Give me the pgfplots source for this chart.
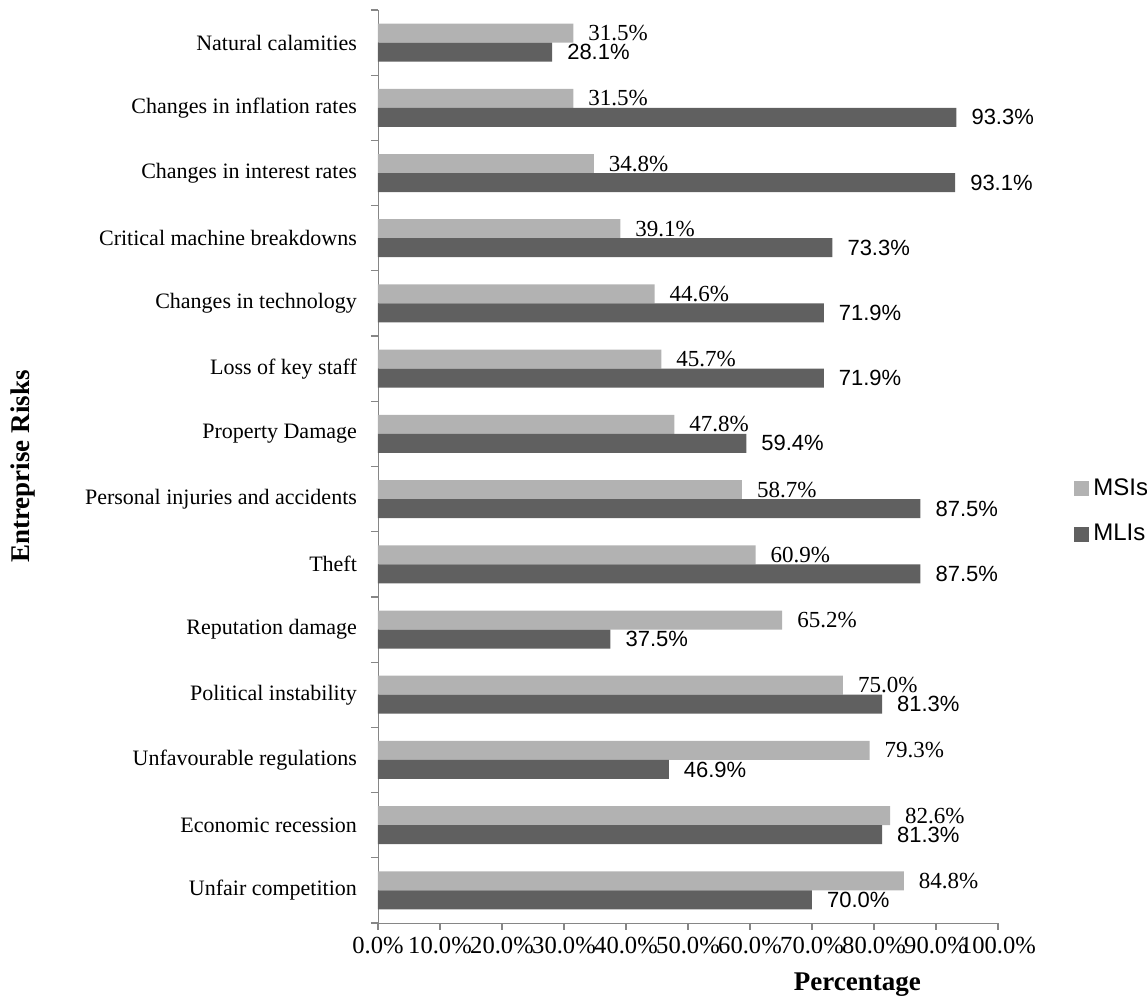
\documentclass[border=0pt]{standalone}
\usepackage{pgfplots}
\pgfplotsset{compat=1.18}
\usepackage{fontspec}
\setmainfont{Liberation Serif}
\newfontfamily\sans{Liberation Sans}
\definecolor{msi}{HTML}{B2B2B2}
\definecolor{mli}{HTML}{606060}
\definecolor{axisgray}{HTML}{868686}
\begin{document}
\begin{tikzpicture}
\path[use as bounding box] (-189pt,-42pt) rectangle (384.5pt,461.5pt);
\begin{axis}[
    at={(0,0)}, anchor=south west,
    scale only axis,
    width=310pt, height=456.5pt,
    xbar, bar width=9.5pt,
    xmin=0, xmax=100,
    ymin=-0.5, ymax=13.5,
    clip=false,
    axis x line*=bottom, axis y line*=left,
    axis line style={axisgray},
    tick style={axisgray, line width=0.6pt},
    tick align=outside,
    major tick length=3.5pt,
    xtick={0,10,...,100},
    xticklabels={0.0\%,10.0\%,20.0\%,30.0\%,40.0\%,50.0\%,60.0\%,70.0\%,80.0\%,90.0\%,100.0\%},
    ytick={-0.5,0.5,...,13.5},
    yticklabel={\relax},
    extra y ticks={0,...,13},
    extra y tick labels={Unfair competition,Economic recession,Unfavourable regulations,Political instability,Reputation damage,Theft,Personal injuries and accidents,Property Damage,Loss of key staff,Changes in technology,Critical machine breakdowns,Changes in interest rates,Changes in inflation rates,Natural calamities},
    extra y tick style={major tick length=0pt,
        yticklabel style={font=\fontsize{11}{13}\selectfont, xshift=-7pt}},
    xticklabel style={font=\fontsize{12.3}{14}\selectfont},
    xlabel={Percentage},
    ylabel={Entreprise Risks},
    xlabel style={font=\bfseries\fontsize{13.5}{16}\selectfont, at={(axis description cs:0.773,0)}, anchor=center, yshift=-31pt},
    ylabel style={font=\bfseries\fontsize{13.5}{16}\selectfont, at={(axis description cs:-0.5726,0.5)}, anchor=center},
    /pgf/number format/assume math mode=true,
    point meta=x,
    nodes near coords={\pgfmathprintnumber[fixed,fixed zerofill,precision=1]{\pgfplotspointmeta}\%},
    legend style={at={(axis description cs:1,0.451)}, anchor=west, xshift=38pt, draw=none, fill=none,
        font=\sans\fontsize{12}{14}\selectfont, row sep=9pt, inner sep=0pt},
    legend cell align=left,
    legend image code/.code={\fill[#1] (0pt,-3.75pt) rectangle (7.5pt,3.75pt);},
]
\addplot[draw=none, fill=msi, bar shift=4.75pt,
    every node near coord/.append style={font=\fontsize{11.5}{13}\selectfont, anchor=west, xshift=4pt, text=black}]
coordinates {
(84.8,0) (82.6,1) (79.3,2) (75.0,3) (65.2,4) (60.9,5) (58.7,6)
(47.8,7) (45.7,8) (44.6,9) (39.1,10) (34.8,11) (31.5,12) (31.5,13)
};
\addlegendentry{MSIs}
\addplot[draw=none, fill=mli, bar shift=-4.75pt,
    every node near coord/.append style={font=\sans\fontsize{11}{13}\selectfont, anchor=west, xshift=4pt, text=black}]
coordinates {
(70.0,0) (81.3,1) (46.9,2) (81.3,3) (37.5,4) (87.5,5) (87.5,6)
(59.4,7) (71.9,8) (71.9,9) (73.3,10) (93.1,11) (93.3,12) (28.1,13)
};
\addlegendentry{MLIs}
\end{axis}
\end{tikzpicture}
\end{document}
